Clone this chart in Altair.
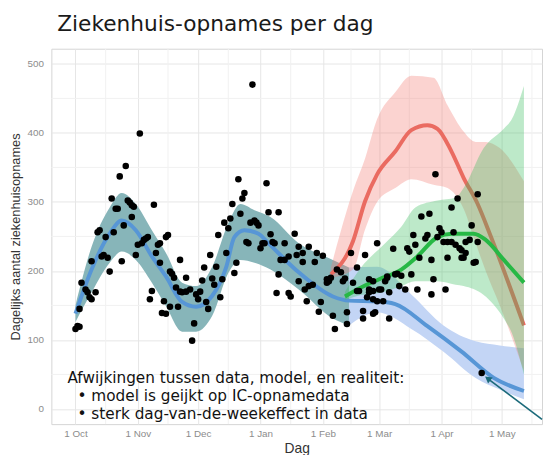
import altair as alt
import pandas as pd

START = pd.Timestamp("2020-10-01")

# ---- waarnemingen: dagen sinds 1 okt 2020 en aantal opnames ----
dag_okt = [0,1,2,2,3,5,6,7,8,8,10,11,12,13,14,15,16,17,18,19,20,21,22,23,24,25,26,27,28,28,29,30]
val_okt = [116,120,119,145,183,173,169,162,159,214,169,256,259,221,223,249,219,199,305,256,290,290,337,214,266,352,302,299,295,278,293,223]
dag_nov = [31,32,33,34,35,36,37,38,39,40,41,42,42,43,44,45,45,46,47,47,48,49,50,51,52,52,53,55,55,57,58,59,60]
val_nov = [238,399,240,245,247,249,159,171,296,226,238,240,212,139,156,138,249,252,148,199,196,190,176,148,216,170,169,170,190,173,99,124,166]
dag_dec = [61,62,63,64,65,66,67,68,69,70,71,72,73,74,75,76,77,78,79,80,81,82,83,84,85,86,87,88,89,90,91]
val_dec = [159,170,186,205,155,145,223,189,180,206,252,162,188,270,226,262,276,297,197,212,333,283,305,313,242,240,270,470,273,270,266]
dag_jan = [92,93,94,95,96,97,98,99,100,101,101,102,104,104,106,106,107,109,110,111,111,113,113,114,115,116,116,118,119,120,121,122]
val_jan = [233,240,240,327,285,253,242,240,168,195,285,216,216,240,221,168,163,254,223,235,185,226,213,173,156,235,178,180,213,226,141,155]
dag_feb = [123,125,125,126,127,128,129,130,132,133,134,135,135,137,138,140,140,141,143,143,144,145,146,146,146,148,148,148,148,149,150,150]
val_feb = [222,188,183,185,190,135,116,202,198,185,189,140,123,226,183,205,171,171,142,131,223,162,188,173,169,185,171,138,159,140,240,156]
dag_mrt = [151,152,153,154,155,155,156,156,158,159,160,161,162,164,165,166,167,168,169,170,171,172,174,175,176,177,177,178,179,180,181]
val_mrt = [173,173,156,185,192,190,169,131,232,195,196,178,193,173,233,228,195,252,238,173,219,279,247,252,283,216,166,188,340,249,262]
dag_apr = [182,183,184,185,185,187,187,188,189,190,191,192,192,193,194,194,196,197,198,199,200,200,202]
val_apr = [256,242,173,242,219,242,292,256,238,305,233,219,230,219,226,242,245,266,212,213,311,242,52]

# ---- model: fitperiode (blauw) ----
blauw_datum = ["2020-10-01","2020-10-09","2020-10-18","2020-10-24","2020-10-31","2020-11-08","2020-11-15",
               "2020-11-23","2020-11-30","2020-12-08","2020-12-15","2020-12-19","2020-12-24","2020-12-31",
               "2021-01-05","2021-01-20","2021-02-06","2021-02-14","2021-02-28","2021-03-09","2021-03-25",
               "2021-04-11","2021-04-27","2021-05-12"]
blauw_lijn = [138,202,254,273,259,221,192,155,148,164,206,249,259,254,240,198,163,157,156,152,120,83,45,26]

fit_datum = ["2020-10-01","2020-10-09","2020-10-18","2020-10-24","2020-10-31","2020-11-08","2020-11-15",
             "2020-11-23","2020-11-30","2020-12-08","2020-12-16","2020-12-22","2020-12-29","2021-01-06",
             "2021-01-20","2021-02-06","2021-02-14"]
fit_laag = [126,169,212,228,216,183,149,112,112,135,197,216,212,202,173,131,121]
fit_hoog = [150,235,292,313,297,259,226,183,178,206,269,297,288,278,240,216,205]

blauw_band_datum = ["2021-02-14","2021-02-28","2021-03-17","2021-04-02","2021-04-18","2021-04-30","2021-05-12"]
blauw_laag = [121,140,116,83,45,28,14]
blauw_hoog = [205,206,166,121,98,92,88]

# ---- scenario rood ----
rood_datum = ["2021-02-05","2021-02-16","2021-02-22","2021-02-28","2021-03-09","2021-03-17","2021-03-25",
              "2021-03-30","2021-04-06","2021-04-12","2021-04-19","2021-04-25","2021-05-12"]
rood_lijn = [195,243,301,340,373,404,411,406,373,335,297,254,121]
rood_band_datum = ["2021-02-05","2021-02-16","2021-02-22","2021-02-28","2021-03-09","2021-03-17","2021-03-28",
                   "2021-04-04","2021-04-12","2021-04-18","2021-04-23","2021-04-30","2021-05-12"]
rood_laag = [190,202,260,300,320,333,325,320,290,240,200,150,55]
rood_hoog = [205,316,363,420,459,483,480,440,402,387,387,378,330]

# ---- scenario groen ----
groen_datum = ["2021-02-12","2021-02-20","2021-03-01","2021-03-12","2021-03-20","2021-03-30","2021-04-06",
               "2021-04-17","2021-04-23","2021-05-02","2021-05-12"]
groen_lijn = [163,176,188,202,221,249,254,254,245,216,183]
groen_band_datum = ["2021-02-12","2021-02-20","2021-03-04","2021-03-12","2021-03-19","2021-03-30","2021-04-08",
                    "2021-04-12","2021-04-22","2021-05-02","2021-05-06","2021-05-12"]
groen_laag = [158,165,170,178,185,185,180,178,165,131,110,50]
groen_hoog = [170,205,240,264,292,302,306,320,378,406,420,468]

# ---- as-indeling ----
maand_ticks = [(2020, 10), (2020, 11), (2020, 12), (2021, 1), (2021, 2), (2021, 3), (2021, 4), (2021, 5)]
minor_x = ["2020-10-16", "2020-11-16", "2020-12-16", "2021-01-16", "2021-02-15", "2021-03-16", "2021-04-16", "2021-05-16"]
y_ticks = [0, 100, 200, 300, 400, 500]
minor_y = [50, 150, 250, 350, 450]

# ---- annotaties ----
notitie_datum = ["2020-09-27", "2020-10-02", "2020-10-02"]
notitie_y = [45, 18, -8]
notitie_tekst = ["Afwijkingen tussen data, model, en realiteit:",
                 "•  model is geijkt op IC-opnamedata",
                 "•  sterk dag-van-de-weekeffect in data"]
pijl_van = ("2021-05-21", -15)
pijl_naar = ("2021-04-24", 44)


def to_date(days):
    return [(START + pd.Timedelta(days=int(d))).strftime("%Y-%m-%d") for d in days]


punten = pd.DataFrame({
    "datum": to_date(dag_okt + dag_nov + dag_dec + dag_jan + dag_feb + dag_mrt + dag_apr),
    "opnames": val_okt + val_nov + val_dec + val_jan + val_feb + val_mrt + val_apr,
})

x_scale = alt.Scale(type="utc", domain=[alt.DateTime(year=2020, month=9, date=19, utc=True),
                                         alt.DateTime(year=2021, month=5, date=21, utc=True)])
y_scale = alt.Scale(domain=[-22, 522], nice=False, zero=False)

x_axis = alt.Axis(values=[alt.DateTime(year=y, month=m, date=1, utc=True) for y, m in maand_ticks],
                  format="%-d %b", title="Dag", labelFontSize=10, labelColor="#8c8c8c",
                  ticks=False, domain=False, grid=True, gridColor="#e6e6e6", labelPadding=5,
                  titleFontSize=14, titleColor="#333333", titleFontWeight="normal", titlePadding=3,
                  labelFont="Liberation Sans", titleFont="Liberation Sans")
y_axis = alt.Axis(values=y_ticks, title="Dagelijks aantal ziekenhuisopnames", labelFontSize=10,
                  labelColor="#8c8c8c", ticks=False, domain=False, grid=True, gridColor="#e6e6e6",
                  labelPadding=8, titleFontSize=13, titleColor="#333333", titleFontWeight="normal",
                  titlePadding=5, labelFont="Liberation Sans", titleFont="Liberation Sans")


def X(field="datum"):
    return alt.X(f"{field}:T", scale=x_scale, axis=x_axis)


def Y(field):
    return alt.Y(f"{field}:Q", scale=y_scale, axis=y_axis)


def band(datum, laag, hoog, color, opacity):
    df = pd.DataFrame({"datum": datum, "laag": laag, "hoog": hoog})
    return alt.Chart(df).mark_area(color=color, opacity=opacity, interpolate="monotone").encode(
        x=X(), y=Y("laag"), y2="hoog")


def lijn(datum, waarden, color):
    df = pd.DataFrame({"datum": datum, "waarde": waarden})
    return alt.Chart(df).mark_line(color=color, strokeWidth=4, interpolate="monotone").encode(
        x=X(), y=Y("waarde"))


grid_x = alt.Chart(pd.DataFrame({"datum": minor_x})).mark_rule(color="#f1f1f1", strokeWidth=1).encode(x=X())
grid_y = alt.Chart(pd.DataFrame({"waarde": minor_y})).mark_rule(color="#f1f1f1", strokeWidth=1).encode(y=Y("waarde"))

fit_band = band(fit_datum, fit_laag, fit_hoog, "#87b5b9", 1.0)
blauw_band = band(blauw_band_datum, blauw_laag, blauw_hoog, "#c3d5f5", 1.0)
blauw = lijn(blauw_datum, blauw_lijn, "#5796d6")
rood_band = band(rood_band_datum, rood_laag, rood_hoog, "#f47a70", 0.33)
rood = lijn(rood_datum, rood_lijn, "#ea6b61")
groen_band = band(groen_band_datum, groen_laag, groen_hoog, "#36bd5b", 0.33)
groen = lijn(groen_datum, groen_lijn, "#27b845")

stippen = alt.Chart(punten).mark_circle(size=44, color="black", opacity=1).encode(x=X(), y=Y("opnames"))

pijl_df = pd.DataFrame({"datum": [pijl_van[0]], "datum2": [pijl_naar[0]],
                        "v": [pijl_van[1]], "v2": [pijl_naar[1]]})
pijl = alt.Chart(pijl_df).mark_rule(color="#1b6a7a", strokeWidth=1.6).encode(
    x=X(), x2="datum2:T", y=Y("v"), y2="v2")
pijlpunt = alt.Chart(pd.DataFrame({"datum": [pijl_naar[0]], "v": [pijl_naar[1]]})).mark_point(
    shape="triangle-up", filled=True, size=60, color="#1b6a7a", opacity=1, angle=307).encode(
    x=X(), y=Y("v"))

notitie = alt.Chart(pd.DataFrame({"datum": notitie_datum, "v": notitie_y, "t": notitie_tekst})).mark_text(
    align="left", baseline="middle", font="DejaVu Sans", fontSize=15.5, color="#111111").encode(
    x=X(), y=Y("v"), text="t:N")

chart = alt.layer(
    grid_x, grid_y, fit_band, blauw_band, blauw, rood_band, rood, groen_band, groen,
    stippen, pijl, pijlpunt, notitie
).properties(
    width=498, height=381,
    autosize=alt.AutoSizeParams(type="none"),
    padding={"left": 44, "top": 38, "right": 2, "bottom": 28},
    title=alt.TitleParams("Ziekenhuis-opnames per dag", anchor="start", frame="group", font="DejaVu Sans",
                          fontSize=22, fontWeight="normal", color="#1a1a1a", dx=6, offset=12),
).configure_view(stroke="#d4d4d4", strokeWidth=1)

chart.save("out.html", embed_options={"renderer": "svg", "actions": False})
